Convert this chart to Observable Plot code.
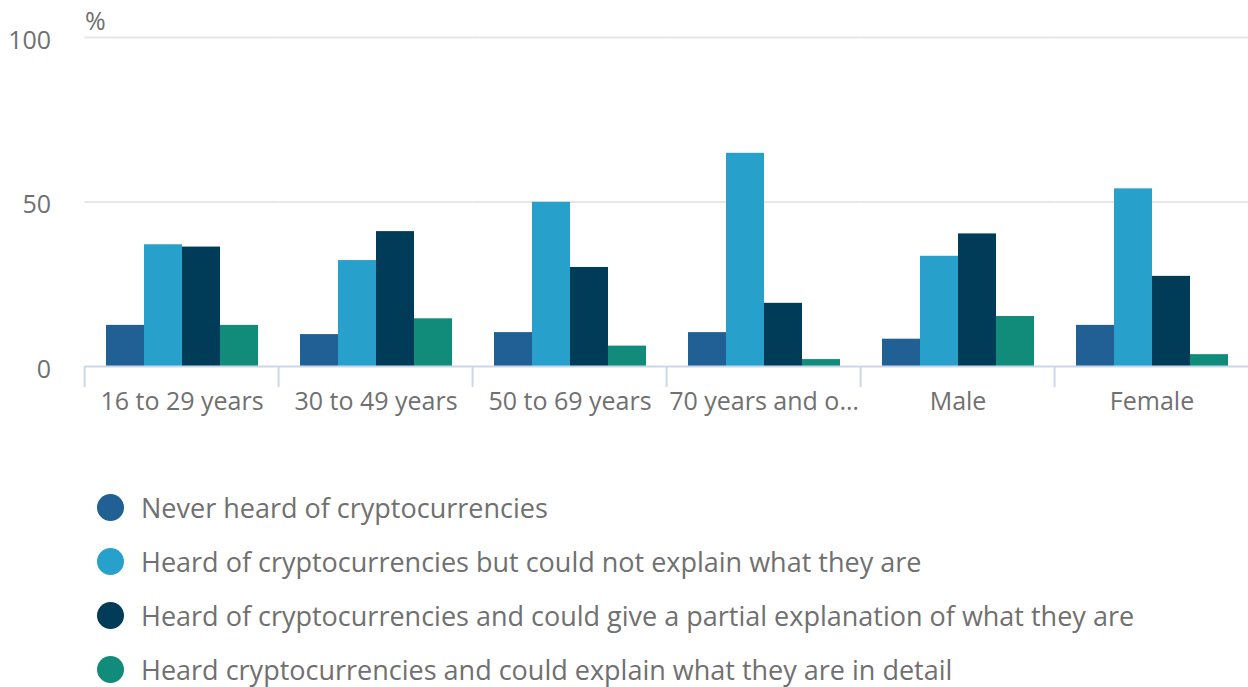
<!DOCTYPE html>
<html><head><meta charset="utf-8">
<script src="https://cdn.jsdelivr.net/npm/d3@7"></script>
<script src="https://cdn.jsdelivr.net/npm/@observablehq/plot@0.6"></script>
<style>
body{margin:0;background:#fff;font-family:"Open Sans",sans-serif;}
#wrap{position:relative;width:1248px;overflow:hidden;}
#unit{position:absolute;left:85px;top:3px;font-size:25px;color:#707070;}
#legend{padding-left:97px;margin-top:40px;}
.item{display:flex;align-items:center;height:54px;font-size:27px;color:#707070;white-space:nowrap;}
.sw{width:27px;height:27px;border-radius:50%;margin-right:17px;flex:none;}
</style></head>
<body><div id="wrap"><div id="unit">%</div><div id="chart"></div><div id="legend"></div></div>
<script>
const categories = ["16 to 29 years", "30 to 49 years", "50 to 69 years", "70 years and o\u2026", "Male", "Female"];
const series = [
  "Never heard of cryptocurrencies",
  "Heard of cryptocurrencies but could not explain what they are",
  "Heard of cryptocurrencies and could give a partial explanation of what they are",
  "Heard cryptocurrencies and could explain what they are in detail"
];
const neverHeard     = [12.5, 9.7, 10.3, 10.3, 8.3, 12.5];
const heardNoExplain = [37.0, 32.2, 49.9, 64.8, 33.5, 54.0];
const partialExplain = [36.3, 41.0, 30.1, 19.2, 40.3, 27.4];
const detailExplain  = [12.5, 14.5, 6.2, 2.1, 15.2, 3.6];
const colors = ["#206095", "#27a0cc", "#003c57", "#118c7b"];
const yTicks = [0, 50, 100];
const gridTicks = [50, 100];

const seriesValues = [neverHeard, heardNoExplain, partialExplain, detailExplain];
const rows = categories.flatMap((c, i) => series.map((s, j) => ({category: c, series: s, value: seriesValues[j][i]})));

const W = 1248, H = 440, mL = 82, mR = -3, mT = 37, mB = 74;
const padIn = 0.2, padOut = 0.1;
const step = (W - mL - mR) / (categories.length - padIn + 2 * padOut);
const ext = step * padOut;
const bw = step * (1 - padIn);
const textColor = "#707070";
const lineColor = "#ccd6eb";

const chart = Plot.plot({
  width: W, height: H,
  marginLeft: mL, marginRight: mR, marginTop: mT, marginBottom: mB,
  style: {fontFamily: "'Open Sans', sans-serif", fontSize: "25px", color: textColor, background: "white", overflow: "hidden"},
  fx: {domain: categories, paddingInner: padIn, paddingOuter: padOut, label: null},
  x: {domain: series, padding: 0, axis: null},
  y: {domain: [0, 100], axis: null},
  color: {domain: series, range: colors},
  marks: [
    Plot.ruleY(gridTicks, {stroke: "#e6e6e6", strokeWidth: 2, insetLeft: -ext, insetRight: -ext}),
    Plot.barY(rows, {fx: "category", x: "series", y: "value", fill: "series"}),
    Plot.ruleY([0], {stroke: lineColor, strokeWidth: 2, insetLeft: -ext, insetRight: -ext}),
    Plot.axisFx({anchor: "bottom", tickSize: 21, tickFormat: () => "", dx: -(bw / 2 + ext), stroke: lineColor, strokeWidth: 2, strokeOpacity: 1, label: null}),
    Plot.axisFx({anchor: "bottom", tickSize: 0, tickPadding: 26, fontSize: 25, label: null, color: textColor}),
    Plot.axisY({ticks: yTicks, anchor: "left", tickSize: 0, tickPadding: ext + 34, fontSize: 25, dy: 3, label: null, color: textColor})
  ]
});
document.getElementById("chart").appendChild(chart);

const legend = document.getElementById("legend");
series.forEach((s, j) => {
  const item = document.createElement("div");
  item.className = "item";
  const sw = document.createElement("span");
  sw.className = "sw";
  sw.style.background = colors[j];
  const t = document.createElement("span");
  t.textContent = s;
  item.appendChild(sw);
  item.appendChild(t);
  legend.appendChild(item);
});
</script>
</body></html>
